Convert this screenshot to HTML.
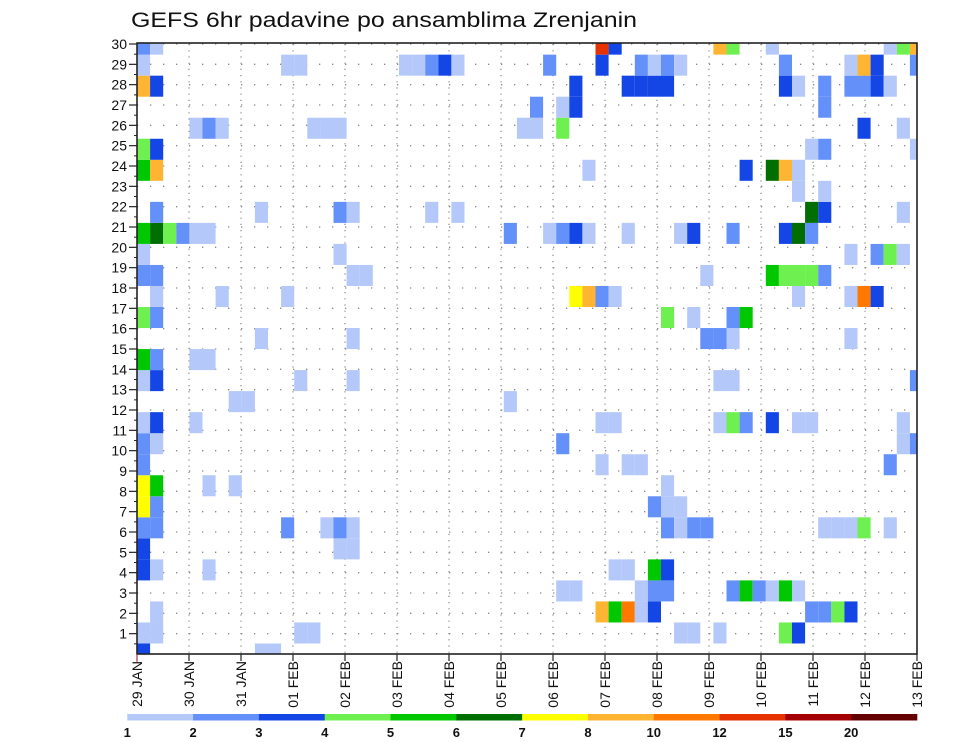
<!DOCTYPE html>
<html><head><meta charset="utf-8"><style>
html,body{margin:0;padding:0;background:#fff;}
svg{display:block;font-family:"Liberation Sans",sans-serif;}
</style></head><body>
<svg id="chart" width="960" height="742" viewBox="0 0 960 742" xmlns="http://www.w3.org/2000/svg">
<text x="131" y="27" font-size="21" textLength="506" lengthAdjust="spacingAndGlyphs" fill="#111">GEFS 6hr padavine po ansamblima Zrenjanin</text>
<g id="grid"></g>
<g id="cells"></g>
<g id="axes"></g>
<g id="legend"></g>
</svg>
<script>
// ---- data ----
const dayLabels = ["29 JAN","30 JAN","31 JAN","01 FEB","02 FEB","03 FEB","04 FEB","05 FEB","06 FEB","07 FEB","08 FEB","09 FEB","10 FEB","11 FEB","12 FEB","13 FEB"];
const memberTicks = [1,2,3,4,5,6,7,8,9,10,11,12,13,14,15,16,17,18,19,20,21,22,23,24,25,26,27,28,29,30];
const legendLabels = ["1","2","3","4","5","6","7","8","10","12","15","20"];
const levelColors = ["#b4c8fa","#6490fa","#1446e6","#6ef050","#00c800","#006e00","#ffff00","#ffb432","#ff7800","#e63200","#a50000","#640000"];
// rows of cells, index 0 = bottom row; entries "column:level"
const rowCells = [
"0:3 9:1 10:1",
"0:1 1:1 12:1 13:1 41:1 42:1 44:1 49:4 50:3",
"1:1 35:8 36:5 37:9 38:1 39:3 51:2 52:2 53:4 54:3",
"32:1 33:1 38:1 39:2 40:2 45:2 46:5 47:2 48:1 49:5 50:1",
"0:3 1:1 5:1 36:1 37:1 39:5 40:3",
"0:3 15:1 16:1",
"0:2 1:2 11:2 14:1 15:2 16:1 40:2 41:1 42:2 43:2 52:1 53:1 54:1 55:4 57:1",
"0:7 1:2 39:2 40:1 41:1",
"0:7 1:5 5:1 7:1 40:1",
"0:2 35:1 37:1 38:1 57:2",
"0:2 1:1 32:2 58:1 59:2",
"0:1 1:3 4:1 35:1 36:1 44:1 45:4 46:2 48:3 50:1 51:1 58:1",
"7:1 8:1 28:1",
"0:1 1:3 12:1 16:1 44:1 45:1 59:2",
"0:5 1:2 4:1 5:1",
"9:1 16:1 43:2 44:2 45:1 54:1",
"0:4 1:2 40:4 42:1 45:2 46:5",
"1:1 6:1 11:1 33:7 34:8 35:2 36:1 50:1 54:1 55:9 56:3",
"0:2 1:2 16:1 17:1 43:1 48:5 49:4 50:4 51:4 52:2",
"0:1 15:1 54:1 56:2 57:4 58:1",
"0:5 1:6 2:4 3:2 4:1 5:1 28:2 31:1 32:2 33:3 34:1 37:1 41:1 42:3 45:2 49:3 50:6 51:2",
"1:2 9:1 15:2 16:1 22:1 24:1 51:6 52:3 58:1",
"50:1 52:1",
"0:5 1:8 34:1 46:3 48:6 49:8 50:1",
"0:4 1:3 51:1 52:2 59:1",
"4:1 5:2 6:1 13:1 14:1 15:1 29:1 30:1 32:4 55:3 58:1",
"30:2 32:1 33:3 52:2",
"0:8 1:3 33:3 37:3 38:3 39:3 40:3 49:3 50:1 52:2 54:2 55:2 56:3 57:1",
"0:1 11:1 12:1 20:1 21:1 22:2 23:3 24:1 31:2 35:3 38:2 39:1 40:2 41:1 49:2 54:1 55:8 56:3 59:2",
"0:2 1:1 35:10 36:3 44:8 45:4 48:1 57:1 58:4 59:8"
];

// ---- scales ----
const NS = "http://www.w3.org/2000/svg";
const L = 137, R = 917, T = 44, B = 654;
const dayW = (R - L) / (dayLabels.length - 1);
const colW = 13.1, rowH = 21.03;
function xDay(d){ return L + d * dayW; }
function yTick(v){ return B - v * (B - T) / 30; }
function xCol(c){ return L + c * colW; }
function yRow(k){ return B - k * rowH; }
function mk(tag, attrs, parent){ const e = document.createElementNS(NS, tag); for (const k in attrs) e.setAttribute(k, attrs[k]); parent.appendChild(e); return e; }

const grid = document.getElementById('grid');
const cells = document.getElementById('cells');
const axes = document.getElementById('axes');
const legend = document.getElementById('legend');

// grid
memberTicks.forEach(v => {
  const ln = mk('line', {x1:L, x2:R, y1:yTick(v), y2:yTick(v), stroke:'#888', 'stroke-width':1.3, 'stroke-dasharray':'1.3 11.7'}, grid);
  
  
});
dayLabels.forEach((d, i) => {
  if (i === 0 || i === dayLabels.length - 1) return;
  const ln = mk('line', {x1:xDay(i), x2:xDay(i), y1:T, y2:B, stroke:'#888', 'stroke-width':1.2, 'stroke-dasharray':'1.2 5'}, grid);
  
  
});

// cells
const clip = mk('clipPath', {id:'plotclip'}, document.getElementById('chart'));
mk('rect', {x:L, y:T - 1, width:R - L, height:B - T + 1}, clip);
cells.setAttribute('clip-path', 'url(#plotclip)');
rowCells.forEach((row, k) => {
  row.split(' ').filter(s => s).forEach(p => {
    const [c, lv] = p.split(':').map(Number);
    const r = mk('rect', {x:xCol(c), y:yRow(k) - rowH / 2, width:colW, height:rowH, fill:levelColors[lv - 1]}, cells);
    
    
  });
});

// frame
const frame = mk('rect', {x:L, y:T - 1, width:R - L, height:B - T + 1, fill:'none', stroke:'#222', 'stroke-width':1.6}, axes);



// y ticks & labels
memberTicks.forEach(v => {
  const y = yTick(v);
  mk('line', {x1:L - 8, x2:L, y1:y, y2:y, stroke:'#222', 'stroke-width':1.2}, axes);
  mk('line', {x1:L - 3, x2:L, y1:y + 10.2, y2:y + 10.2, stroke:'#222', 'stroke-width':1}, axes);
  const t = mk('text', {x:L - 10, y:y + 5, 'font-size':14, 'text-anchor':'end', fill:'#111'}, axes);
  t.textContent = v;
  
  
});

// x ticks & labels
dayLabels.forEach((d, i) => {
  const x = xDay(i);
  mk('line', {x1:x, x2:x, y1:B, y2:B + 7, stroke:'#222', 'stroke-width':1.2}, axes);
  const t = mk('text', {transform:'translate(' + (x + 5) + ',661) rotate(-90)', 'font-size':14, 'text-anchor':'end', fill:'#111'}, axes);
  t.textContent = d;
  
  
});
mk('line', {x1:L, x2:L, y1:B, y2:B + 8, stroke:'#b04040', 'stroke-width':1}, axes);

// legend
const lx0 = 127.3, lw = (917 - 127.3) / levelColors.length;
levelColors.forEach((c, i) => {
  const r = mk('rect', {x:lx0 + i * lw, y:714, width:lw + 0.3, height:6.5, fill:c}, legend);
  
  
});
legendLabels.forEach((s, i) => {
  const t = mk('text', {x:lx0 + i * lw, y:737, 'font-size':13, 'font-weight':'bold', 'text-anchor':'middle', fill:'#111'}, legend);
  t.textContent = s;
  
  
});
</script>
</body></html>
